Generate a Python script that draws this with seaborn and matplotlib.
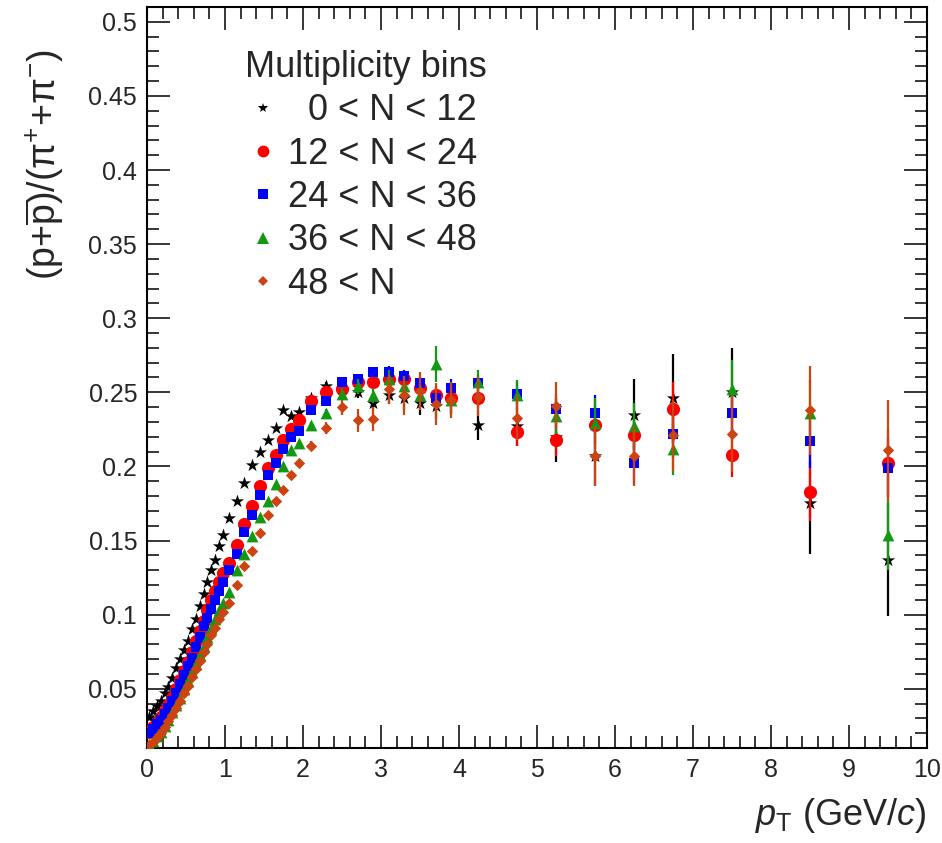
import numpy as np
import pandas as pd
import seaborn as sns
import matplotlib.pyplot as plt
from matplotlib.lines import Line2D
from matplotlib.ticker import MultipleLocator, FuncFormatter

# pT bin centres (GeV/c)
pt = [0.025, 0.075, 0.125, 0.175, 0.225, 0.275, 0.325, 0.375, 0.425, 0.475,
      0.525, 0.575, 0.625, 0.675, 0.725, 0.775, 0.825, 0.875, 0.925, 0.975,
      1.05, 1.15, 1.25, 1.35, 1.45, 1.55, 1.65, 1.75, 1.85, 1.95,
      2.1, 2.3, 2.5, 2.7, 2.9, 3.1, 3.3, 3.5, 3.7, 3.9,
      4.25, 4.75, 5.25, 5.75, 6.25, 6.75, 7.5, 8.5, 9.5]

# (p+pbar)/(pi+ + pi-) per multiplicity bin
r_0_12 = [0.031, 0.035, 0.038, 0.042, 0.047, 0.051, 0.057, 0.064, 0.070, 0.076,
          0.082, 0.090, 0.097, 0.106, 0.114, 0.122, 0.130, 0.137, 0.146, 0.154,
          0.165, 0.177, 0.189, 0.201, 0.210, 0.218, 0.226, 0.238, 0.234, 0.237,
          0.246, 0.254, 0.252, 0.250, 0.243, 0.248, 0.246, 0.243, 0.241, 0.245,
          0.228, 0.227, 0.220, 0.207, 0.235, 0.246, 0.250, 0.175, 0.137]
r_12_24 = [0.021, 0.024, 0.027, 0.031, 0.035, 0.039, 0.044, 0.050, 0.056, 0.062,
           0.068, 0.075, 0.082, 0.089, 0.096, 0.103, 0.110, 0.116, 0.122, 0.128,
           0.135, 0.147, 0.161, 0.173, 0.187, 0.199, 0.208, 0.218, 0.225, 0.231,
           0.244, 0.250, 0.252, 0.257, 0.257, 0.259, 0.259, 0.253, 0.248, 0.246,
           0.246, 0.223, 0.218, 0.228, 0.221, 0.239, 0.208, 0.183, 0.202]
r_24_36 = [0.020, 0.023, 0.026, 0.029, 0.033, 0.037, 0.042, 0.047, 0.053, 0.059,
           0.065, 0.071, 0.078, 0.085, 0.092, 0.098, 0.104, 0.110, 0.116, 0.122,
           0.130, 0.141, 0.156, 0.167, 0.181, 0.194, 0.202, 0.212, 0.220, 0.224,
           0.238, 0.244, 0.257, 0.259, 0.264, 0.264, 0.261, 0.256, 0.246, 0.253,
           0.256, 0.249, 0.239, 0.236, 0.202, 0.222, 0.236, 0.217, 0.199]
r_36_48 = [0.013, 0.015, 0.018, 0.021, 0.025, 0.029, 0.034, 0.039, 0.044, 0.050,
           0.055, 0.061, 0.067, 0.073, 0.079, 0.085, 0.091, 0.097, 0.103, 0.108,
           0.115, 0.130, 0.141, 0.153, 0.166, 0.177, 0.188, 0.200, 0.211, 0.216,
           0.228, 0.236, 0.249, 0.254, 0.248, 0.259, 0.254, 0.248, 0.269, 0.245,
           0.257, 0.248, 0.234, 0.229, 0.227, 0.212, 0.252, 0.236, 0.154]
r_48 = [0.012, 0.014, 0.017, 0.020, 0.024, 0.028, 0.032, 0.037, 0.042, 0.047,
        0.052, 0.058, 0.063, 0.069, 0.075, 0.080, 0.086, 0.091, 0.097, 0.102,
        0.108, 0.120, 0.133, 0.143, 0.155, 0.167, 0.177, 0.184, 0.194, 0.202,
        0.214, 0.226, 0.240, 0.231, 0.232, 0.252, 0.248, 0.251, 0.242, 0.245,
        0.247, 0.233, 0.241, 0.207, 0.207, 0.221, 0.222, 0.238, 0.211]

# errors for pT >= 2.1 (below that they are hidden by the markers)
e_0_12 = [0.002, 0.003, 0.003, 0.004, 0.005, 0.006, 0.007, 0.008, 0.009, 0.010,
          0.010, 0.013, 0.017, 0.020, 0.024, 0.030, 0.030, 0.034, 0.038]
e_12_24 = [0.002, 0.002, 0.003, 0.003, 0.004, 0.004, 0.005, 0.005, 0.006, 0.006,
           0.007, 0.009, 0.011, 0.013, 0.015, 0.018, 0.015, 0.020, 0.023]
e_24_36 = [0.002, 0.002, 0.003, 0.003, 0.003, 0.004, 0.004, 0.005, 0.005, 0.006,
           0.006, 0.008, 0.010, 0.012, 0.014, 0.016, 0.016, 0.018, 0.020]
e_36_48 = [0.002, 0.003, 0.004, 0.005, 0.005, 0.006, 0.007, 0.008, 0.012, 0.009,
           0.008, 0.010, 0.012, 0.017, 0.016, 0.018, 0.020, 0.022, 0.024]
e_48 = [0.003, 0.004, 0.005, 0.008, 0.008, 0.010, 0.013, 0.013, 0.014, 0.012,
        0.013, 0.015, 0.016, 0.020, 0.020, 0.024, 0.026, 0.030, 0.034]

labels = ["  0 < N < 12", "12 < N < 24", "24 < N < 36", "36 < N < 48", "48 < N"]
colors = ["#000000", "#ff0000", "#0000ff", "#119911", "#cc4411"]
markers = ["*", "o", "s", "^", "D"]
msizes = [10, 9.5, 7.5, 8.5, 5.8]
leg_sizes = [7, 8.5, 6.5, 8, 5]

sns.set_theme(style="ticks")
plt.rcParams["font.family"] = ["Liberation Sans", "DejaVu Sans"]
plt.rcParams["mathtext.fontset"] = "custom"
plt.rcParams["mathtext.rm"] = "Liberation Sans"
plt.rcParams["mathtext.it"] = "Liberation Sans:italic"
plt.rcParams["mathtext.bf"] = "Liberation Sans:bold"

fig = plt.figure(figsize=(9.42, 8.43), dpi=100)
ax = fig.add_axes([0.156, 0.1127, 0.828, 0.879])

series = [r_0_12, r_12_24, r_24_36, r_36_48, r_48]
errors = [e_0_12, e_12_24, e_24_36, e_36_48, e_48]
n_low = len(pt) - len(e_0_12)

for i, (vals, err) in enumerate(zip(series, errors)):
    df = pd.DataFrame({"pt": pt, "ratio": vals,
                       "err": np.concatenate([np.zeros(n_low), err])})
    ax.errorbar(df["pt"], df["ratio"], yerr=df["err"], fmt="none",
                ecolor=colors[i], elinewidth=1.6, zorder=2 + i)
    sns.scatterplot(data=df, x="pt", y="ratio", marker=markers[i],
                    color=colors[i], s=msizes[i] ** 2, linewidth=0,
                    ax=ax, zorder=2.5 + i, legend=False)

ax.set_xlim(0, 10)
ax.set_ylim(0.01, 0.51)
ax.xaxis.set_major_locator(MultipleLocator(1))
ax.xaxis.set_minor_locator(MultipleLocator(0.2))
ax.yaxis.set_major_locator(MultipleLocator(0.05))
ax.yaxis.set_minor_locator(MultipleLocator(0.01))
ax.yaxis.set_major_formatter(FuncFormatter(lambda v, p: f"{v:g}"))
ax.tick_params(which="both", direction="in", top=True, right=True,
               width=1.1, color="black")
ax.tick_params(which="major", length=16.5, labelsize=18, pad=7)
ax.tick_params(which="minor", length=8.3)
for sp in ax.spines.values():
    sp.set_linewidth(1.5)
    sp.set_color("black")

ax.set_xlabel(r"$p_{\rm T}$ (GeV/$c$)", fontsize=26, loc="right", labelpad=10)
ax.set_ylabel("")
fig.text(45 / 942, 1 - 165 / 843,
         r"(p+$\overline{\rm p}$)/(π$^{+}$+π$^{-}$)",
         rotation=90, fontsize=27, ha="center", va="center")

handles = [Line2D([], [], ls="none", marker=markers[i], color=colors[i],
                  markersize=leg_sizes[i], markeredgewidth=0)
           for i in range(5)]
ax.legend(handles, labels, title="Multiplicity bins", loc="upper left",
          bbox_to_anchor=(0.1256, 0.942), frameon=False, fontsize=26,
          title_fontsize=26, alignment="left", handlelength=1.0,
          handletextpad=0.2, labelspacing=0.23, borderpad=0,
          borderaxespad=0)

fig.savefig("out.png", dpi=100)
